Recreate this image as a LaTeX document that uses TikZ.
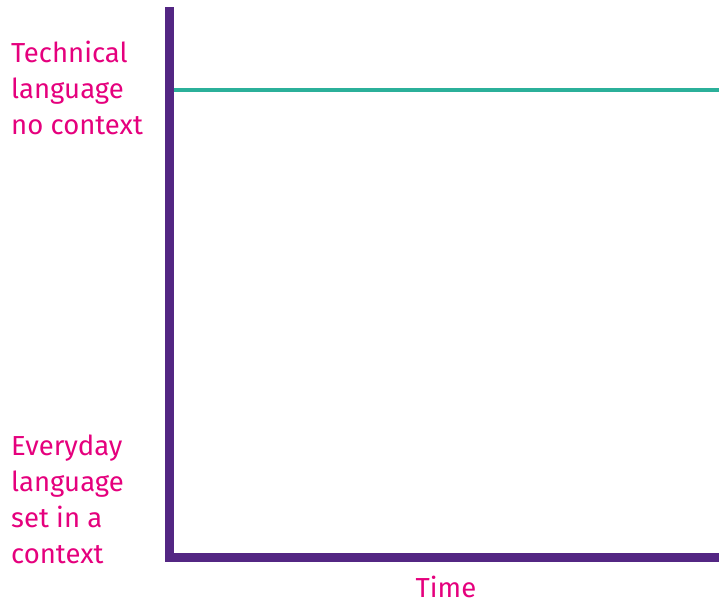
\documentclass[tikz,border=0pt]{standalone}
\usepackage{fontspec}
\setmainfont{Fira Sans}
\definecolor{axispurple}{HTML}{532683}
\definecolor{lineteal}{HTML}{2BB09A}
\definecolor{labelpink}{HTML}{E5007D}
\begin{document}
\begin{tikzpicture}[x=1pt,y=-1pt,
  lbl/.style={text=labelpink,font=\fontsize{27.5}{36}\selectfont,align=left,inner sep=0pt,anchor=base west},
  axisline/.style={draw=axispurple,line width=9pt},
  dataline/.style={draw=lineteal,line width=4pt}]
\useasboundingbox (0,0) rectangle (719,603);
\coordinate (top) at (169,7);
\coordinate (origin) at (169,557);
\coordinate (right) at (719,557);
\coordinate (tl) at (173.5,89.5);
\coordinate (tr) at (719,89.5);
\draw[axisline] (top) -- (origin) -- (right);
\draw[dataline] (tl) -- (tr);
\node[lbl] (tech) at (11,134) {Technical\\language\\no context};
\node[lbl] (every) at (11,563) {Everyday\\language\\set in a\\context};
\node[lbl,anchor=base] (time) at (446,597) {Time};
\end{tikzpicture}
\end{document}
